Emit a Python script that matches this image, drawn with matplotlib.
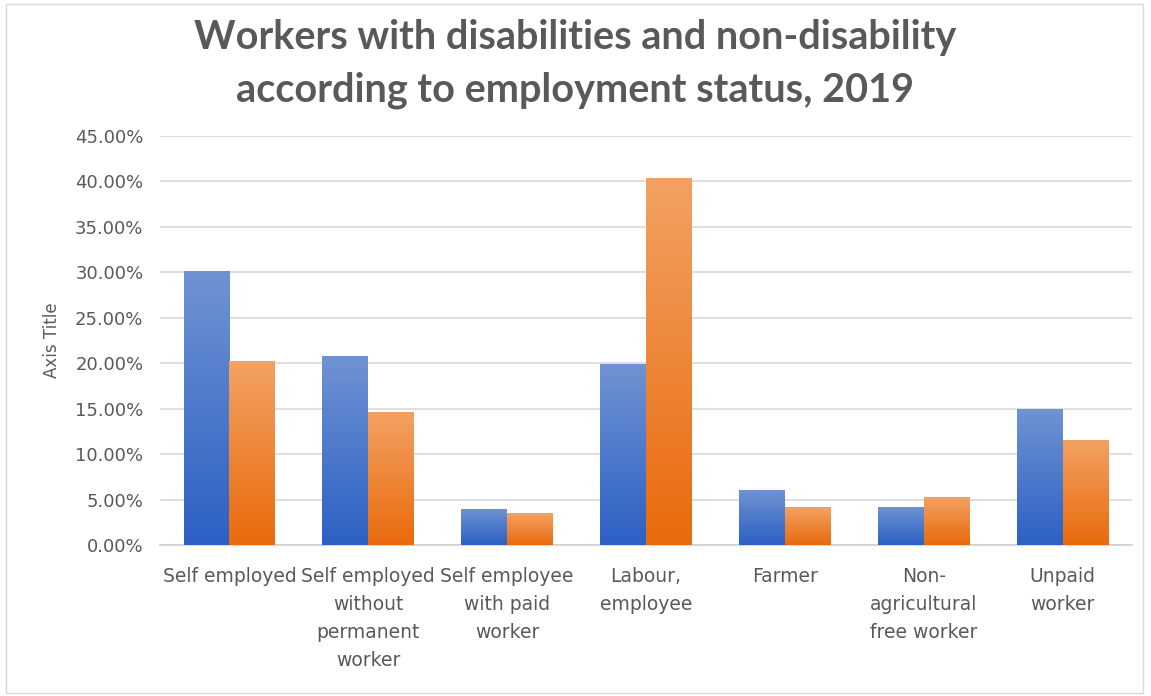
import numpy as np
from matplotlib import pyplot as plt
from matplotlib.patches import Rectangle
from matplotlib.colors import LinearSegmentedColormap

# Data (percent)
categories = ['Self employed', 'Self employed\nwithout\npermanent\nworker',
              'Self employee\nwith paid\nworker', 'Labour,\nemployee', 'Farmer',
              'Non-\nagricultural\nfree worker', 'Unpaid\nworker']
disability = [30.2, 20.8, 4.0, 19.9, 6.1, 4.2, 15.0]
non_disability = [20.2, 14.6, 3.5, 40.4, 4.15, 5.3, 11.6]
yticks = np.arange(0, 46, 5)

text_gray = '#595959'
plt.rcParams['font.family'] = ['DejaVu Sans']

fig = plt.figure(figsize=(11.51, 6.96), dpi=100)
ax = fig.add_axes([160 / 1151, 1 - 545 / 696, 972 / 1151, 409 / 696])

# Chart area border
fig.patches.append(Rectangle((6 / 1151, 0.004), 1137 / 1151, 0.99, transform=fig.transFigure,
                             fill=False, edgecolor='#d9d9d9', linewidth=1))

x = np.arange(len(categories))
width = 0.33
grad = np.linspace(0, 1, 256).reshape(-1, 1)
blue_map = LinearSegmentedColormap.from_list('b', ['#2c60c4', '#7093d2'])
orange_map = LinearSegmentedColormap.from_list('o', ['#e96a0c', '#f3a264'])

for offset, values, base, cmap in [(-width / 2, disability, '#3d6fc9', blue_map),
                                    (width / 2, non_disability, '#ef8030', orange_map)]:
    bars = ax.bar(x + offset, values, width, color=base, zorder=2)
    for bar in bars:
        x0, y0 = bar.get_x(), bar.get_y()
        im = ax.imshow(grad, cmap=cmap, origin='lower', aspect='auto', zorder=3,
                       extent=[x0, x0 + bar.get_width(), y0, y0 + bar.get_height()])
        im.set_clip_path(bar)

ax.set_xlim(-0.5, len(categories) - 0.5)
ax.set_ylim(0, 45)
ax.set_yticks(yticks)
ax.set_yticklabels(['{:.2f}%'.format(v) for v in yticks], color=text_gray, fontsize=13)
ax.set_xticks(x)
ax.set_xticklabels(categories, color=text_gray, fontsize=13.5, linespacing=1.6)
ax.tick_params(length=0, pad=12)
ax.tick_params(axis='x', pad=16)
ax.grid(axis='y', color='#d9d9d9', linewidth=1.2, zorder=0)
for side in ['top', 'right', 'left']:
    ax.spines[side].set_visible(False)
ax.spines['bottom'].set_color('#d0d0d0')
ax.spines['bottom'].set_linewidth(1.2)
ax.set_ylabel('Axis Title', color=text_gray, fontsize=12, labelpad=10)

fig.text(0.5, 1 - 64 / 696, 'Workers with disabilities and non-disability\naccording to employment status, 2019',
         ha='center', va='center', fontsize=28.5, fontweight='bold', color=text_gray,
         linespacing=1.5, family=['Lato', 'DejaVu Sans'])

fig.savefig('out.png', dpi=100)
